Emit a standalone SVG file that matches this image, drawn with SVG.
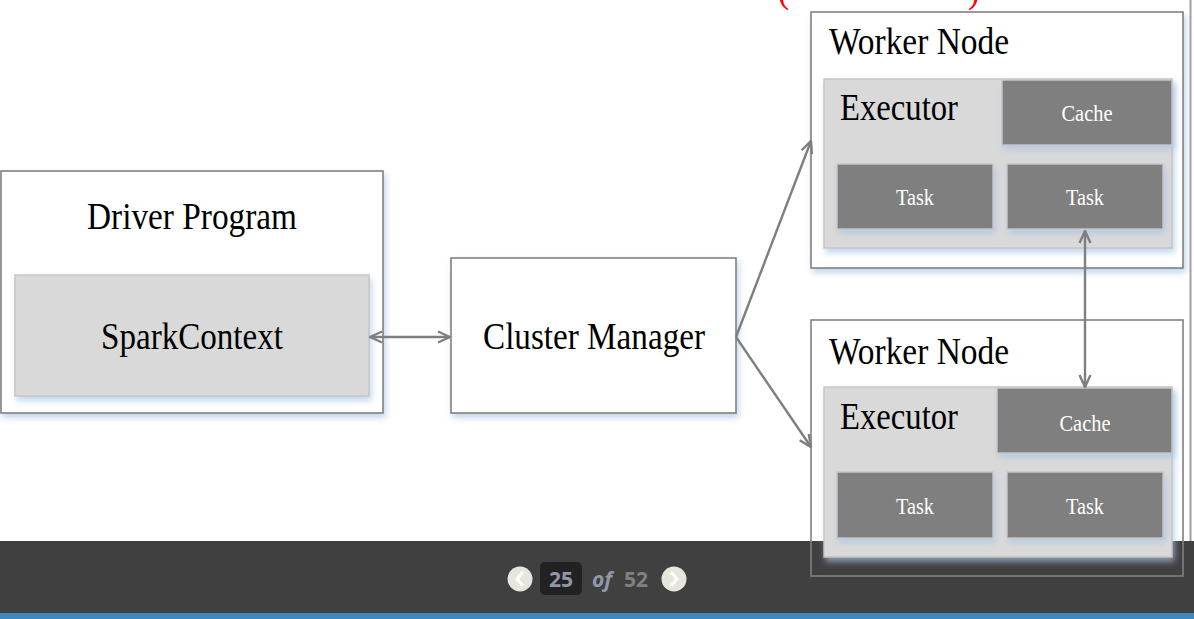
<svg xmlns="http://www.w3.org/2000/svg" width="1194" height="619" viewBox="0 0 1194 619">
<defs>
<style>
.box{fill:#fff;stroke:#808080;stroke-width:1.6}
.wn{fill:none;stroke:#808080;stroke-width:1.6}
.inner{fill:#d9d9d9;stroke:#c4c4c4;stroke-width:1.4}
.dark{fill:#7f7f7f;stroke:#c8c8c8;stroke-width:1.4}
.t{font-family:"Liberation Serif","Times New Roman",serif;fill:#000}
.big{font-size:38px}
.w{font-family:"Liberation Serif","Times New Roman",serif;fill:#fff;font-size:24px}
.con{stroke:#7f7f7f;stroke-width:2.4;fill:none}
.nav{font-family:"Open Sans","DejaVu Sans",sans-serif;font-weight:bold;font-size:21px}
</style>
<filter id="sh" x="-10%" y="-10%" width="125%" height="130%">
<feDropShadow dx="2" dy="4" stdDeviation="3" flood-color="#a9c4e4" flood-opacity="0.7"/>
</filter>
<marker id="ah" viewBox="0 0 14 14" refX="13" refY="7" markerWidth="14" markerHeight="14" markerUnits="userSpaceOnUse" orient="auto-start-reverse">
<path d="M1,1.5 L13,7 L1,12.5" fill="none" stroke="#7f7f7f" stroke-width="2.4"/>
</marker>
</defs>
<rect width="1194" height="619" fill="#fff"/>
<text x="778" y="3" font-family="Liberation Serif,serif" font-size="34" fill="#ff0000">(</text>
<text x="968" y="3" font-family="Liberation Serif,serif" font-size="34" fill="#ff0000">)</text>
<line x1="1190.5" y1="0" x2="1190.5" y2="541" stroke="#a0a0a0" stroke-width="2"/>
<g id="footer">
<rect x="0" y="541" width="1194" height="72" fill="#404040"/>
<rect x="0" y="613" width="1194" height="6" fill="#3c88bf"/>
<circle cx="520" cy="579" r="12.5" fill="#e6e6dc"/>
<path d="M523,572 L517,579 L523,586" fill="none" stroke="#fff" stroke-width="3"/>
<rect x="540" y="562" width="42" height="33" rx="5" fill="#222"/>
<text x="561" y="587" text-anchor="middle" class="nav" fill="#8f99a8">25</text>
<text x="602" y="587" text-anchor="middle" class="nav" fill="#8f99a8" font-style="italic">of</text>
<text x="636" y="587" text-anchor="middle" class="nav" fill="#808080">52</text>
<circle cx="674" cy="579" r="12.5" fill="#e6e6dc"/>
<path d="M671,572 L677,579 L671,586" fill="none" stroke="#fff" stroke-width="3"/>
</g>
<g id="driver">
<rect class="box" x="1" y="171" width="382" height="242" filter="url(#sh)"/>
<text class="t big" x="192" y="229" text-anchor="middle" textLength="210" lengthAdjust="spacingAndGlyphs">Driver Program</text>
</g>
<g id="sparkcontext">
<rect class="inner" x="15" y="275" width="354" height="121" filter="url(#sh)"/>
<text class="t big" x="192" y="349" text-anchor="middle" textLength="182" lengthAdjust="spacingAndGlyphs">SparkContext</text>
</g>
<g id="cluster">
<rect class="box" x="451" y="258" width="285" height="155" filter="url(#sh)"/>
<text class="t big" x="594" y="349" text-anchor="middle" textLength="222" lengthAdjust="spacingAndGlyphs">Cluster Manager</text>
</g>
<g id="worker1">
<rect class="box" x="811" y="12" width="372" height="256" filter="url(#sh)"/>
<text class="t big" x="829" y="54" textLength="180" lengthAdjust="spacingAndGlyphs">Worker Node</text>
</g>
<g id="executor1">
<rect class="inner" x="824" y="79" width="348" height="169" filter="url(#sh)"/>
<text class="t big" x="840" y="120" textLength="118" lengthAdjust="spacingAndGlyphs">Executor</text>
</g>
<g id="cache1">
<rect class="dark" x="1002" y="80" width="170" height="65" filter="url(#sh)"/>
<text class="w" x="1087" y="121" text-anchor="middle" textLength="51" lengthAdjust="spacingAndGlyphs">Cache</text>
</g>
<g id="task1a">
<rect class="dark" x="837" y="164" width="156" height="65" filter="url(#sh)"/>
<text class="w" x="915" y="205" text-anchor="middle" textLength="38" lengthAdjust="spacingAndGlyphs">Task</text>
</g>
<g id="task1b">
<rect class="dark" x="1007" y="164" width="156" height="65" filter="url(#sh)"/>
<text class="w" x="1085" y="205" text-anchor="middle" textLength="38" lengthAdjust="spacingAndGlyphs">Task</text>
</g>
<g id="worker2">
<rect class="wn" x="811" y="320" width="372" height="256"/>
<text class="t big" x="829" y="364" textLength="180" lengthAdjust="spacingAndGlyphs">Worker Node</text>
</g>
<g id="executor2">
<rect class="inner" x="824" y="387" width="348" height="170" filter="url(#sh)"/>
<text class="t big" x="840" y="429" textLength="118" lengthAdjust="spacingAndGlyphs">Executor</text>
</g>
<g id="cache2">
<rect class="dark" x="997" y="388" width="175" height="65" filter="url(#sh)"/>
<text class="w" x="1085" y="431" text-anchor="middle" textLength="51" lengthAdjust="spacingAndGlyphs">Cache</text>
</g>
<g id="task2a">
<rect class="dark" x="837" y="472" width="156" height="66" filter="url(#sh)"/>
<text class="w" x="915" y="514" text-anchor="middle" textLength="38" lengthAdjust="spacingAndGlyphs">Task</text>
</g>
<g id="task2b">
<rect class="dark" x="1007" y="472" width="156" height="66" filter="url(#sh)"/>
<text class="w" x="1085" y="514" text-anchor="middle" textLength="38" lengthAdjust="spacingAndGlyphs">Task</text>
</g>
<g id="connectors">
<line class="con" x1="370" y1="337" x2="450" y2="337" marker-start="url(#ah)" marker-end="url(#ah)"/>
<line class="con" x1="736" y1="337" x2="811" y2="141" marker-end="url(#ah)"/>
<line class="con" x1="736" y1="337" x2="811" y2="447" marker-end="url(#ah)"/>
<line class="con" x1="1085" y1="231" x2="1085" y2="387" marker-start="url(#ah)" marker-end="url(#ah)"/>
</g>
</svg>
